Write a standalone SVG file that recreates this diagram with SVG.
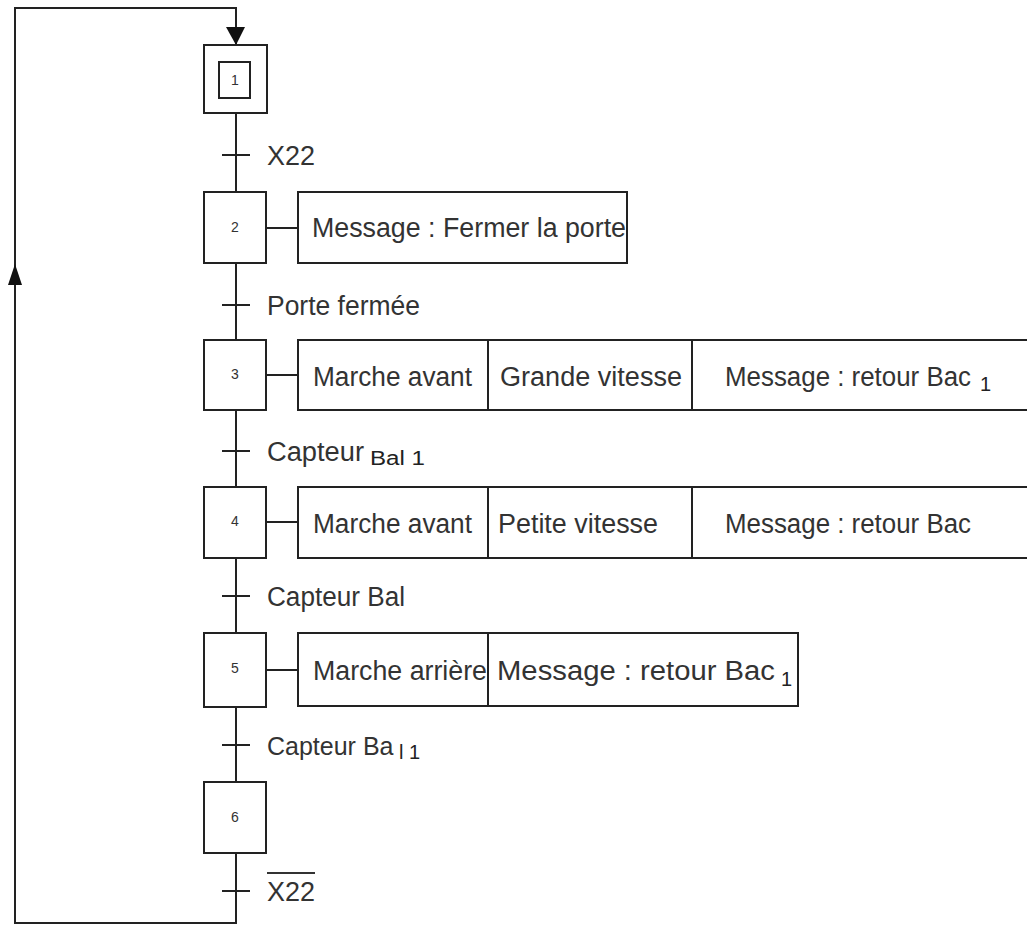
<svg xmlns="http://www.w3.org/2000/svg" width="1027" height="927" viewBox="0 0 1027 927">
<defs>
<style>
.ln{stroke:#222;stroke-width:2;fill:none}
.box{stroke:#222;stroke-width:2;fill:#fff}
.t{font-family:"Liberation Sans",Arial,sans-serif;font-size:27px;fill:#333}
.s{font-family:"Liberation Sans",Arial,sans-serif;font-size:20px;fill:#222}
.n{font-family:"Liberation Sans",Arial,sans-serif;font-size:14px;fill:#333;text-anchor:middle}
</style>
</defs>
<rect width="1027" height="927" fill="#fff"/>
<g id="connectors">
<path class="ln" d="M236,891 L236,923 L15,923 L15,262"/>
<path d="M8,285 L15,264 L22,285 z" fill="#111"/>
<path class="ln" d="M15,264 L15,8 L236,8 L236,44"/>
<path d="M226,27 L236,45 L245,27 z" fill="#111"/>
<line class="ln" x1="236" y1="113" x2="236" y2="192"/>
<line class="ln" x1="236" y1="263" x2="236" y2="340"/>
<line class="ln" x1="236" y1="410" x2="236" y2="487"/>
<line class="ln" x1="236" y1="558" x2="236" y2="633"/>
<line class="ln" x1="236" y1="707" x2="236" y2="782"/>
<line class="ln" x1="236" y1="853" x2="236" y2="891"/>
<line class="ln" x1="222" y1="155" x2="250" y2="155"/>
<line class="ln" x1="222" y1="305" x2="250" y2="305"/>
<line class="ln" x1="222" y1="451" x2="250" y2="451"/>
<line class="ln" x1="222" y1="596" x2="250" y2="596"/>
<line class="ln" x1="222" y1="745" x2="250" y2="745"/>
<line class="ln" x1="222" y1="891" x2="250" y2="891"/>
<line class="ln" x1="266" y1="228" x2="298" y2="228"/>
<line class="ln" x1="266" y1="375" x2="298" y2="375"/>
<line class="ln" x1="266" y1="522" x2="298" y2="522"/>
<line class="ln" x1="266" y1="670" x2="298" y2="670"/>
</g>
<g id="transitions">
<text class="t" x="267" y="165" textLength="48" lengthAdjust="spacingAndGlyphs">X22</text>
<text class="t" x="267" y="315" textLength="153" lengthAdjust="spacingAndGlyphs">Porte fermée</text>
<text class="t" x="267" y="461" textLength="97" lengthAdjust="spacingAndGlyphs">Capteur</text><text class="s" x="370" y="465" textLength="55" lengthAdjust="spacingAndGlyphs">Bal 1</text>
<text class="t" x="267" y="606" textLength="138" lengthAdjust="spacingAndGlyphs">Capteur Bal</text>
<text class="t" x="267" y="755" style="font-size:25px">Capteur Ba<tspan class="s" x="399" y="759">l 1</tspan></text>
<text class="t" x="267" y="901" textLength="48" lengthAdjust="spacingAndGlyphs">X22</text>
<line x1="267" y1="873" x2="315" y2="873" stroke="#333" stroke-width="2"/>
</g>
<g id="step1">
<rect class="box" x="204" y="45" width="63" height="68"/>
<rect class="box" x="219" y="62" width="31" height="36"/>
<text class="n" x="235" y="85">1</text>
</g>
<g id="step2">
<rect class="box" x="204" y="192" width="62" height="71"/>
<text class="n" x="235" y="232">2</text>
<rect class="box" x="298" y="192" width="329" height="71"/>
<text class="t" x="312" y="237" textLength="314" lengthAdjust="spacingAndGlyphs">Message : Fermer la porte</text>
</g>
<g id="step3">
<rect class="box" x="204" y="340" width="62" height="70"/>
<text class="n" x="235" y="379">3</text>
<rect class="box" x="298" y="340" width="735" height="70"/>
<line class="ln" x1="488" y1="340" x2="488" y2="410"/>
<line class="ln" x1="692" y1="340" x2="692" y2="410"/>
<text class="t" x="313" y="386" textLength="159" lengthAdjust="spacingAndGlyphs">Marche avant</text>
<text class="t" x="500" y="386" textLength="182" lengthAdjust="spacingAndGlyphs">Grande vitesse</text>
<text class="t" x="725" y="386" textLength="246" lengthAdjust="spacingAndGlyphs">Message : retour Bac</text><text class="s" x="980" y="391">1</text>
</g>
<g id="step4">
<rect class="box" x="204" y="487" width="62" height="71"/>
<text class="n" x="235" y="526">4</text>
<rect class="box" x="298" y="487" width="735" height="71"/>
<line class="ln" x1="488" y1="487" x2="488" y2="558"/>
<line class="ln" x1="692" y1="487" x2="692" y2="558"/>
<text class="t" x="313" y="533" textLength="159" lengthAdjust="spacingAndGlyphs">Marche avant</text>
<text class="t" x="498" y="533" textLength="160" lengthAdjust="spacingAndGlyphs">Petite vitesse</text>
<text class="t" x="725" y="533" textLength="246" lengthAdjust="spacingAndGlyphs">Message : retour Bac</text>
</g>
<g id="step5">
<rect class="box" x="204" y="633" width="62" height="74"/>
<text class="n" x="235" y="673">5</text>
<rect class="box" x="298" y="633" width="500" height="73"/>
<line class="ln" x1="488" y1="633" x2="488" y2="706"/>
<text class="t" x="313" y="680" textLength="174" lengthAdjust="spacingAndGlyphs">Marche arrière</text>
<text class="t" x="497" y="680" textLength="278" lengthAdjust="spacingAndGlyphs">Message : retour Bac</text><text class="s" x="781" y="686">1</text>
</g>
<g id="step6">
<rect class="box" x="204" y="782" width="62" height="71"/>
<text class="n" x="235" y="822">6</text>
</g>
</svg>
